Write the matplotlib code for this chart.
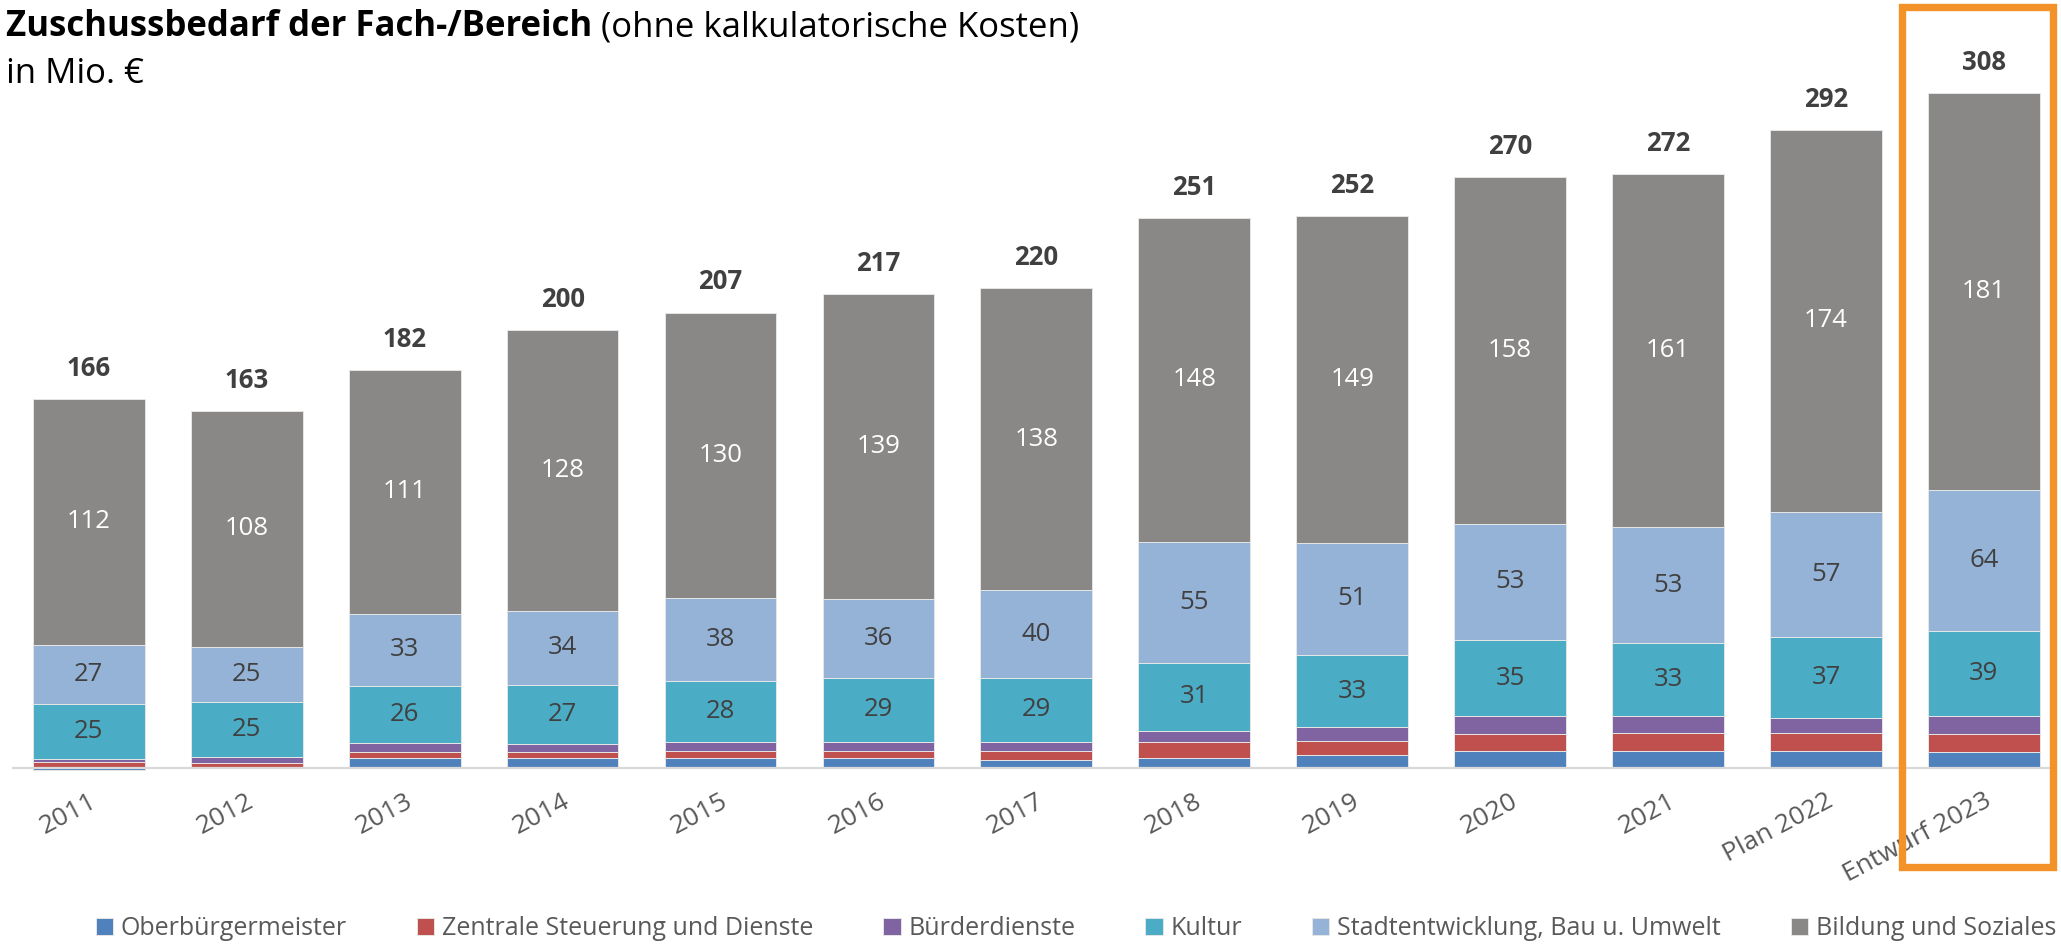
import numpy as np
import matplotlib.pyplot as plt
from matplotlib.patches import Rectangle

plt.rcParams['font.family'] = ['Open Sans', 'DejaVu Sans']

# Daten (in Mio. EUR)
jahre = ["2011", "2012", "2013", "2014", "2015", "2016", "2017", "2018",
         "2019", "2020", "2021", "Plan 2022", "Entwurf 2023"]
oberbuergermeister = [-1.2, 0.3, 4.3, 4.4, 4.5, 4.4, 3.5, 4.5, 5.8, 7.7, 7.4, 7.4, 7.3]
zentrale_steuerung = [2.6, 1.8, 2.9, 2.6, 2.9, 3.2, 4.1, 7.0, 6.5, 7.7, 8.5, 8.5, 8.2]
buergerdienste = [1.4, 2.7, 4.0, 3.6, 4.1, 4.2, 4.2, 5.3, 6.1, 7.9, 7.7, 6.8, 7.9]
kultur = [25, 25, 26, 27, 28, 29, 29, 31, 33, 35, 33, 37, 39]
stadtentwicklung = [27, 25, 33, 34, 38, 36, 40, 55, 51, 53, 53, 57, 64]
bildung_soziales = [112, 108, 111, 128, 130, 139, 138, 148, 149, 158, 161, 174, 181]
gesamt = [166, 163, 182, 200, 207, 217, 220, 251, 252, 270, 272, 292, 308]

serien = [
    ("Oberbürgermeister", oberbuergermeister, "#4F81BD", None),
    ("Zentrale Steuerung und Dienste", zentrale_steuerung, "#C0504D", None),
    ("Bürderdienste", buergerdienste, "#8064A2", None),
    ("Kultur", kultur, "#4BACC6", "#404040"),
    ("Stadtentwicklung, Bau u. Umwelt", stadtentwicklung, "#95B3D7", "#404040"),
    ("Bildung und Soziales", bildung_soziales, "#898886", "white"),
]

fig = plt.figure(figsize=(20.61, 9.44), dpi=100)
ax = fig.add_axes([0.0063, 0.1799, 0.990, 0.7736])

# Achsen zuerst (set_position setzt die Ticks zurueck)
for s in ["top", "left", "right"]:
    ax.spines[s].set_visible(False)
ax.spines["bottom"].set_position(("data", 0))
ax.spines["bottom"].set_color("#d9d9d9")
ax.spines["bottom"].set_linewidth(1.6)
ax.spines["bottom"].set_zorder(3)

x = np.arange(len(jahre))
basis = np.zeros(len(jahre))
for name, werte, farbe, labelfarbe in serien:
    werte = np.array(werte, dtype=float)
    unten = np.where(werte < 0, 0, basis)
    bars = ax.bar(x, werte, 0.708, bottom=unten, color=farbe, label=name,
                  edgecolor="#e6e6e6", linewidth=0.7, zorder=2)
    if labelfarbe is not None:
        ax.bar_label(bars, labels=[str(int(v)) for v in werte], label_type="center",
                     color=labelfarbe, fontsize=18.5)
    basis = basis + np.clip(werte, 0, None)

for i, tot in enumerate(gesamt):
    ax.annotate(str(tot), (x[i], basis[i]), xytext=(0, 22), textcoords="offset points",
                ha="center", va="center", fontsize=18.5, fontweight="bold", color="#404040")

ax.set_xlim(-0.48, 12.44)
ax.set_ylim(-3, 330)
ax.set_yticks([])
ax.set_xticks(x, jahre, rotation=28, ha="right", rotation_mode="anchor")
ax.tick_params(axis="x", length=0, pad=15, labelsize=19, labelcolor="#595959")

# Titel
t1 = fig.text(0.003, 0.962, "Zuschussbedarf der Fach-/Bereich", fontsize=25,
              fontweight="bold", color="black", va="baseline")
ax.annotate(" (ohne kalkulatorische Kosten)", xy=(1, 0), xycoords=t1, va="bottom",
            ha="left", fontsize=25, color="black", annotation_clip=False)
fig.text(0.003, 0.912, "in Mio. €", fontsize=25, color="black", va="baseline")

# Rahmen um Entwurf 2023
fig.patches.append(Rectangle((0.9229, 0.0816), 0.0732, 0.911, transform=fig.transFigure,
                             fill=False, edgecolor="#F4922A", linewidth=5.3, zorder=5))

fig.legend(loc="center", bbox_to_anchor=(0.522, 0.016), ncol=6, frameon=False,
           fontsize=18, labelcolor="#595959", handlelength=0.7, handleheight=0.7,
           handletextpad=0.3, columnspacing=2.8)

fig.savefig("out.png", dpi=100)
